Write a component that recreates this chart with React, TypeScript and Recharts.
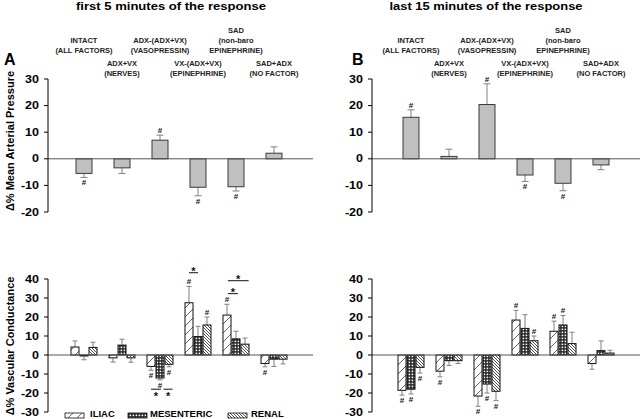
import { BarChart, Bar, XAxis, YAxis, ReferenceLine } from "recharts";

const FONT = "'Liberation Sans', Arial, sans-serif";

const groupKeys = ["intact", "adxvx", "vaso", "epi", "sad", "sadadx"];
const groupLabels = [
  ["INTACT", "(ALL FACTORS)"],
  ["ADX+VX", "(NERVES)"],
  ["ADX-(ADX+VX)", "(VASOPRESSIN)"],
  ["VX-(ADX+VX)", "(EPINEPHRINE)"],
  ["SAD", "(non-baro", "EPINEPHRINE)"],
  ["SAD+ADX", "(NO FACTOR)"],
];

const mapTicks = [-20, -10, 0, 10, 20, 30];
const vcTicks = [-30, -20, -10, 0, 10, 20, 30, 40];

// mean arterial pressure, first 5 min / last 15 min
const mapFirst = [-5.5, -3.4, 7.0, -10.7, -10.5, 2.1];
const mapFirstErr = [1.5, 2.1, 1.9, 3.2, 1.6, 2.4];
const mapFirstSig = [true, false, true, true, true, false];

const mapLast = [15.6, 0.9, 20.4, -6.1, -9.2, -2.3];
const mapLastErr = [2.8, 2.7, 7.8, 2.4, 2.8, 1.8];
const mapLastSig = [true, false, true, true, true, false];

// vascular conductance, first 5 min
const iliacFirst = [4.2, -1.5, -6.0, 27.5, 21.0, -4.5];
const iliacFirstErr = [3.2, 2.2, 2.0, 8.6, 5.7, 1.7];
const iliacFirstSig = [false, false, true, true, true, true];
const mesFirst = [-0.5, 5.2, -12.1, 9.7, 8.5, -2.2];
const mesFirstErr = [2.0, 3.1, 1.0, 5.4, 4.0, 3.8];
const mesFirstSig = [false, false, true, false, false, false];
const renalFirst = [4.0, -1.5, -4.9, 15.8, 5.7, -2.2];
const renalFirstErr = [2.7, 2.3, 1.3, 4.2, 3.2, 2.5];
const renalFirstSig = [false, false, true, true, false, false];

// vascular conductance, last 15 min
const iliacLast = [-18.6, -8.5, -21.6, 18.4, 12.5, -4.5];
const iliacLastErr = [2.5, 3.0, 5.4, 5.1, 5.3, 3.0];
const iliacLastSig = [true, true, true, true, true, false];
const mesLast = [-18.0, -3.0, -15.3, 14.0, 15.8, 2.3];
const mesLastErr = [2.5, 2.5, 4.7, 7.2, 5.0, 5.1];
const mesLastSig = [true, false, true, false, true, false];
const renalLast = [-6.5, -3.0, -19.1, 7.5, 6.0, 1.0];
const renalLastErr = [3.0, 1.5, 4.9, 2.5, 6.0, 1.5];
const renalLastSig = [true, false, true, true, false, false];

// significance brackets (first 5 min): group, bar positions, level
const firstBrackets = [
  { group: 2, from: 0, to: 1.1, level: -18, below: true },
  { group: 2, from: 1.4, to: 2.4, level: -18, below: true },
  { group: 3, from: 0, to: 1, level: 43.3, below: false },
  { group: 4, from: 0.1, to: 2.4, level: 39.1, below: false },
  { group: 4, from: 0.1, to: 1.2, level: 32.3, below: false },
];

const vcNames = ["ILIAC", "MESENTERIC", "RENAL"];
const vcKeys = ["iliac", "mesenteric", "renal"];

const mapRows = (vals: number[]) => groupKeys.map((key, i) => ({ key, map: vals[i] }));
const vcRows = (il: number[], me: number[], re: number[]) =>
  groupKeys.map((key, i) => ({ key, iliac: il[i], mesenteric: me[i], renal: re[i] }));

const BAR_GAP = 1;

function Patterns({ id }: { id: string }) {
  return (
    <defs>
      <pattern id={`${id}-iliac`} patternUnits="userSpaceOnUse" width={9} height={9}>
        <rect width={9} height={9} fill="#fff" />
        <path d="M0,9 L9,0 M-2,2 L2,-2 M7,11 L11,7" stroke="#222" strokeWidth={0.7} />
      </pattern>
      <pattern id={`${id}-mesenteric`} patternUnits="userSpaceOnUse" width={3} height={3}>
        <rect width={3} height={3} fill="#222" />
        <rect x={0.6} y={0.6} width={1.6} height={1.6} fill="#fff" />
      </pattern>
      <pattern id={`${id}-renal`} patternUnits="userSpaceOnUse" width={3} height={3}>
        <rect width={3} height={3} fill="#fff" />
        <path d="M0,0 L3,3 M-1,2 L1,4 M2,-1 L4,1" stroke="#222" strokeWidth={0.8} />
      </pattern>
    </defs>
  );
}

type Bracket = { group: number; from: number; to: number; level: number; below: boolean };

function BarWithError(props: any) {
  const { x, y, width, height, index, vals, errs, sigs, fill, stroke, capW, brackets } = props;
  const v = vals[index];
  const e = errs[index];
  const zeroY = y + height;
  const k = height / v;
  const px = (u: number) => zeroY - u * k;
  const end = v + Math.sign(v) * e;
  const cx = x + width / 2;
  const ye = px(end);
  const step = width + BAR_GAP;
  const bx = (p: number) => x + width / 2 + p * step;
  return (
    <g>
      <line x1={cx} x2={cx} y1={px(v)} y2={ye} stroke="#808080" strokeWidth={1} />
      <line x1={cx - capW / 2} x2={cx + capW / 2} y1={ye} y2={ye} stroke="#808080" strokeWidth={1} />
      <rect x={x} y={Math.min(y, zeroY)} width={width} height={Math.abs(height)} fill={fill} stroke={stroke} strokeWidth={1} />
      {sigs[index] && (
        <text x={cx} y={v > 0 ? ye - 2 : ye + 8} textAnchor="middle" fontSize={8} fontWeight="bold" fill="#111">
          #
        </text>
      )}
      {(brackets || [])
        .filter((b: Bracket) => b.group === index)
        .map((b: Bracket, j: number) => {
          const ly = px(b.level);
          return (
            <g key={j}>
              <line x1={bx(b.from)} x2={bx(b.to)} y1={ly} y2={ly} stroke="#111" strokeWidth={1} />
              <text
                x={(bx(b.from) + bx(b.to)) / 2}
                y={b.below ? ly + 11 : ly + 2.5}
                textAnchor="middle"
                fontSize={11}
                fontWeight="bold"
                fill="#111"
              >
                *
              </text>
            </g>
          );
        })}
    </g>
  );
}

function CatTick(props: any) {
  const { x, y, payload } = props;
  const i = payload.index;
  const lines = groupLabels[i];
  const last = i % 2 === 0 ? -26 : -3;
  return (
    <g>
      {lines.map((t, j) => (
        <text
          key={j}
          x={x}
          y={y + last - (lines.length - 1 - j) * 10}
          textAnchor="middle"
          fontSize={7.5}
          fontWeight="bold"
          fill="#222"
        >
          {t}
        </text>
      ))}
    </g>
  );
}

// the original figure is stretched sideways, so tick numbers are wider than tall
function YTick(props: any) {
  const { x, y, payload } = props;
  return (
    <text transform={`translate(${x},${y}) scale(1.25,1)`} textAnchor="end" dy="0.36em" fontSize={10} fontWeight="bold" fill="#000">
      {payload.value}
    </text>
  );
}

function MapChart({ vals, errs, sigs, padL, padR, right, id }: any) {
  return (
    <BarChart width={right ? 316 : 320} height={200} data={mapRows(vals)} margin={{ top: 0, right: right ? 0 : 7, bottom: 8, left: 0 }}>
      <XAxis
        dataKey="key"
        orientation="top"
        height={59}
        axisLine={false}
        tickLine={false}
        tickSize={0}
        tickMargin={0}
        interval={0}
        padding={{ left: padL, right: padR }}
        tick={(p: any) => <CatTick {...p} />}
      />
      <YAxis
        type="number"
        domain={[-20, 30]}
        ticks={mapTicks}
        interval={0}
        width={48}
        tick={(p: any) => <YTick {...p} />}
        tickSize={4}
        tickMargin={5}
        axisLine={{ stroke: "#000" }}
        tickLine={{ stroke: "#000" }}
      />
      <ReferenceLine y={0} stroke="#555" strokeWidth={1} />
      <Bar
        dataKey="map"
        barSize={16}
        fill="#c0c0c0"
        isAnimationActive={false}
        shape={(p: any) => (
          <BarWithError {...p} key={`${id}-${p.index}`} vals={vals} errs={errs} sigs={sigs} fill="#c0c0c0" stroke="#3a3a3a" capW={7} />
        )}
      />
    </BarChart>
  );
}

function VcChart({ series, padL, padR, right, id, brackets }: any) {
  return (
    <BarChart
      width={right ? 316 : 320}
      height={169}
      data={vcRows(series[0].vals, series[1].vals, series[2].vals)}
      margin={{ top: 29, right: right ? 0 : 7, bottom: 7, left: 0 }}
      barGap={BAR_GAP}
    >
      <Patterns id={id} />
      <XAxis dataKey="key" hide padding={{ left: padL, right: padR }} />
      <YAxis
        type="number"
        domain={[-30, 40]}
        ticks={vcTicks}
        interval={0}
        width={48}
        tick={(p: any) => <YTick {...p} />}
        tickSize={4}
        tickMargin={5}
        axisLine={{ stroke: "#000" }}
        tickLine={{ stroke: "#000" }}
      />
      <ReferenceLine y={0} stroke="#555" strokeWidth={1} />
      {vcKeys.map((k, si) => (
        <Bar
          key={k}
          dataKey={k}
          barSize={8}
          fill={`url(#${id}-${k})`}
          isAnimationActive={false}
          shape={(p: any) => (
            <BarWithError
              {...p}
              vals={series[si].vals}
              errs={series[si].errs}
              sigs={series[si].sigs}
              fill={`url(#${id}-${k})`}
              stroke="#111"
              capW={5}
              brackets={si === 0 ? brackets : undefined}
            />
          )}
        />
      ))}
    </BarChart>
  );
}

const vcFirstSeries = [
  { vals: iliacFirst, errs: iliacFirstErr, sigs: iliacFirstSig },
  { vals: mesFirst, errs: mesFirstErr, sigs: mesFirstSig },
  { vals: renalFirst, errs: renalFirstErr, sigs: renalFirstSig },
];
const vcLastSeries = [
  { vals: iliacLast, errs: iliacLastErr, sigs: iliacLastSig },
  { vals: mesLast, errs: mesLastErr, sigs: mesLastSig },
  { vals: renalLast, errs: renalLastErr, sigs: renalLastSig },
];

const legendSwatchX = [65, 128, 228];
const legendTextX = [90, 150, 251];

export default function App() {
  const abs = (left: number, top: number) => ({ position: "absolute" as const, left, top });
  return (
    <div style={{ position: "absolute", left: 0, top: 0, width: 640, height: 419, background: "#fff", fontFamily: FONT, overflow: "hidden" }}>
      <div style={abs(0, 20)}>
        <MapChart id="ma" vals={mapFirst} errs={mapFirstErr} sigs={mapFirstSig} padL={17} padR={20} />
      </div>
      <div style={abs(324, 20)}>
        <MapChart id="mb" right vals={mapLast} errs={mapLastErr} sigs={mapLastSig} padL={20} padR={20} />
      </div>
      <div style={abs(0, 250)}>
        <VcChart id="va" series={vcFirstSeries} padL={17} padR={20} brackets={firstBrackets} />
      </div>
      <div style={abs(324, 250)}>
        <VcChart id="vb" right series={vcLastSeries} padL={20} padR={20} />
      </div>
      <svg width={640} height={419} style={{ position: "absolute", left: 0, top: 0, pointerEvents: "none" }}>
        <Patterns id="lg" />
        <text x={171} y={10} textAnchor="middle" fontSize={10.5} fontWeight="bold" textLength={190} lengthAdjust="spacingAndGlyphs">
          first 5 minutes of the response
        </text>
        <text x={486} y={10} textAnchor="middle" fontSize={10.5} fontWeight="bold" textLength={193} lengthAdjust="spacingAndGlyphs">
          last 15 minutes of the response
        </text>
        <text x={4} y={65} fontSize={16} fontWeight="bold">A</text>
        <text x={352} y={65} fontSize={16} fontWeight="bold">B</text>
        <text transform="translate(14,141) rotate(-90)" textAnchor="middle" fontSize={11} fontWeight="bold">Δ% Mean Arterial Pressure</text>
        <text transform="translate(14,346) rotate(-90)" textAnchor="middle" fontSize={11} fontWeight="bold">Δ% Vascular Conductance</text>
        {vcKeys.map((k, i) => (
          <g key={k}>
            <rect x={legendSwatchX[i]} y={413} width={19} height={5} fill={`url(#lg-${k})`} stroke="#111" strokeWidth={0.8} />
            <text x={legendTextX[i]} y={417} fontSize={9.5} fontWeight="bold">{vcNames[i]}</text>
          </g>
        ))}
      </svg>
    </div>
  );
}
